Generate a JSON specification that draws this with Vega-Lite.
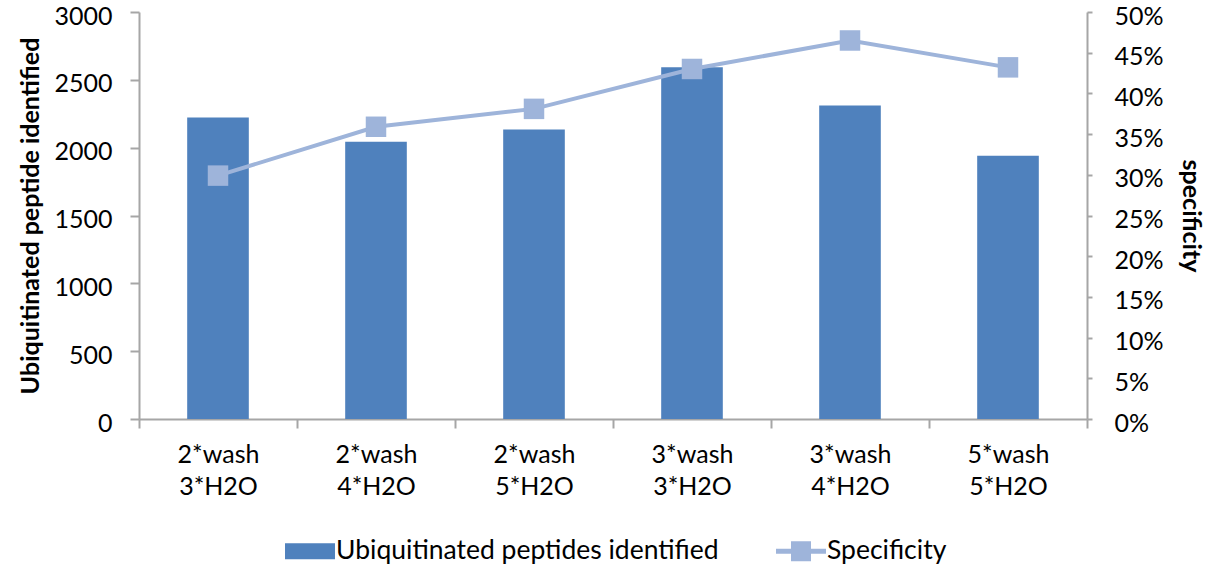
{
  "$schema": "https://vega.github.io/schema/vega-lite/v6.json",
  "width": 948,
  "height": 407,
  "autosize": {"type": "none"},
  "padding": {"left": 139, "top": 12, "right": 142, "bottom": 151},
  "background": "white",
  "config": {
    "view": {"stroke": null},
    "font": "Lato",
    "axis": {
      "labelFont": "Lato",
      "titleFont": "Lato",
      "labelColor": "#000000",
      "titleColor": "#000000",
      "domainColor": "#A6A6A6",
      "tickColor": "#A6A6A6",
      "domainWidth": 2,
      "tickWidth": 2,
      "grid": false
    }
  },
  "data": {
    "values": [
      {"condition": "2*wash|3*H2O", "peptides": 2222, "specificity": 0.299},
      {"condition": "2*wash|4*H2O", "peptides": 2044, "specificity": 0.359},
      {"condition": "2*wash|5*H2O", "peptides": 2133, "specificity": 0.381},
      {"condition": "3*wash|3*H2O", "peptides": 2593, "specificity": 0.430},
      {"condition": "3*wash|4*H2O", "peptides": 2311, "specificity": 0.465},
      {"condition": "5*wash|5*H2O", "peptides": 1941, "specificity": 0.432}
    ]
  },
  "encoding": {
    "x": {
      "field": "condition",
      "type": "nominal",
      "sort": null,
      "scale": {"paddingInner": 0, "paddingOuter": 0},
      "axis": {
        "title": null,
        "labelAngle": 0,
        "labelExpr": "split(datum.label, '|')",
        "labelFontSize": 25,
        "labelLineHeight": 32,
        "labelPadding": 14,
        "tickSize": 9,
        "tickBand": "extent"
      }
    }
  },
  "layer": [
    {
      "mark": {"type": "bar", "width": {"band": 0.39}},
      "encoding": {
        "y": {
          "field": "peptides",
          "type": "quantitative",
          "scale": {"domain": [0, 3000], "nice": false},
          "axis": {
            "title": "Ubiquitinated peptide identified",
            "titleFontSize": 25,
            "titleFontWeight": "bold",
            "titlePadding": 10,
            "labelFontSize": 25,
            "labelPadding": 18,
            "labelOffset": 4,
            "tickSize": 9,
            "format": "d",
            "values": [0, 500, 1000, 1500, 2000, 2500, 3000]
          }
        },
        "color": {
          "datum": "Ubiquitinated peptides identified",
          "type": "nominal",
          "scale": {
            "domain": ["Ubiquitinated peptides identified", "Specificity"],
            "range": ["#4F81BD", "#9EB4DA"]
          },
          "legend": {
            "title": null,
            "orient": "none",
            "direction": "horizontal",
            "legendX": 141,
            "legendY": 509,
            "labelFont": "Lato",
            "labelFontSize": 26.5,
            "labelColor": "#000000",
            "labelLimit": 0,
            "symbolSize": 3600,
            "labelOffset": -4,
            "columnPadding": 52,
            "encode": {
              "symbols": {
                "update": {
                  "shape": {"signal": "datum.value === 'Specificity' ? 'M-0.833,-0.083H0.833V0.083H-0.833Z M-0.333,-0.333H0.333V0.333H-0.333Z' : 'M-0.833,-0.27H0.833V0.27H-0.833Z'"},
                  "fill": {"signal": "datum.value === 'Specificity' ? '#A0B7DC' : '#4F81BD'"},
                  "stroke": {"value": "transparent"},
                  "strokeWidth": {"value": 0},
                  "opacity": {"value": 1},
                  "fillOpacity": {"value": 1}
                }
              }
            }
          }
        }
      }
    },
    {
      "mark": {
        "type": "line",
        "strokeWidth": 4,
        "point": {"filled": true, "shape": "square", "size": 420, "color": "#A3B9DD", "opacity": 1}
      },
      "encoding": {
        "y": {
          "field": "specificity",
          "type": "quantitative",
          "scale": {"domain": [0, 0.5], "nice": false},
          "axis": {
            "orient": "right",
            "title": "specificity",
            "titleFontSize": 25,
            "titleFontWeight": "bold",
            "titlePadding": 14,
            "labelFontSize": 25,
            "labelPadding": 22,
            "labelOffset": 4,
            "tickSize": 5,
            "format": ".0%",
            "values": [0, 0.05, 0.1, 0.15, 0.2, 0.25, 0.3, 0.35, 0.4, 0.45, 0.5]
          }
        },
        "color": {"datum": "Specificity", "type": "nominal"}
      }
    }
  ],
  "resolve": {"scale": {"y": "independent"}}
}
